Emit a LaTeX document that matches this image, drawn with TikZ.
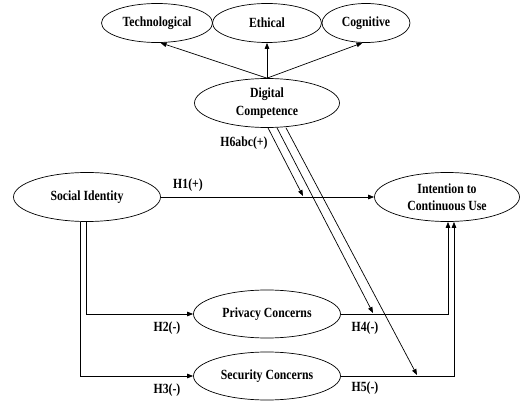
\documentclass[tikz,border=0pt]{standalone}
\usepackage{fontspec}
\setmainfont[FakeStretch=0.84]{Liberation Serif}
\usetikzlibrary{shapes.geometric,arrows.meta}
\begin{document}
\begin{tikzpicture}[x=1pt,y=-1pt,
  construct/.style={draw, ellipse, inner sep=0pt, line width=0.7pt,
    align=center, font=\fontsize{14}{17.5}\selectfont\bfseries},
  hyp/.style={font=\fontsize{14}{15}\selectfont\bfseries, inner sep=0pt},
  link/.style={line width=0.7pt, -{Triangle[length=6pt,width=4.5pt]}},
  plain/.style={line width=0.7pt}]
\useasboundingbox (0,0) rectangle (520,401);

% dimensions of digital competence
\node[construct, minimum width=111pt, minimum height=39pt] (tech) at (157,23) {Technological};
\node[construct, minimum width=109pt, minimum height=39pt] (eth)  at (267,23) {Ethical};
\node[construct, minimum width=88pt,  minimum height=39pt] (cog)  at (366,23) {Cognitive};

% main constructs
\node[construct, minimum width=145pt, minimum height=49pt] (dc)   at (267,103) {Digital\\Competence};
\node[construct, minimum width=147pt, minimum height=49pt] (si)   at (87,197)  {Social Identity};
\node[construct, minimum width=145pt, minimum height=49pt] (int)  at (447,197) {Intention to\\Continuous Use};
\node[construct, minimum width=147pt, minimum height=48pt] (priv) at (267,314) {Privacy Concerns};
\node[construct, minimum width=147pt, minimum height=48pt] (sec)  at (267,376) {Security Concerns};

% second-order dimensions
\draw[link] (dc.north) -- (tech.-80);
\draw[link] (dc.north) -- (eth.south);
\draw[link] (dc.north) -- (cog.-100);

% direct paths
\draw[link] (si.east) -- (int.west);
\draw[link] ([xshift=-1pt]si.south) |- (priv.west);
\draw[link] ([xshift=-7pt]si.south) |- (sec.west);
\draw[link] (priv.east) -| ([xshift=1pt]int.south);
\draw[link] (sec.east) -| ([xshift=7pt]int.south);

% moderating paths
\coordinate (m1) at (303,196);
\coordinate (m2) at (373,313);
\coordinate (m3) at (417,375);
\draw[link] ([xshift=1pt]dc.south) -- (m1);
\draw[link] ([xshift=10pt]dc.south) -- (m2);
\draw[link] ([xshift=19pt]dc.south) -- (m3);

% hypothesis labels
\node[hyp] (h1) at (188,185) {H1(+)};
\node[hyp] (h2) at (167,328) {H2(-)};
\node[hyp] (h3) at (167,390) {H3(-)};
\node[hyp] (h4) at (365,328) {H4(-)};
\node[hyp] (h5) at (365,388) {H5(-)};
\node[hyp] (h6) at (244,143) {H6abc(+)};
\end{tikzpicture}
\end{document}
